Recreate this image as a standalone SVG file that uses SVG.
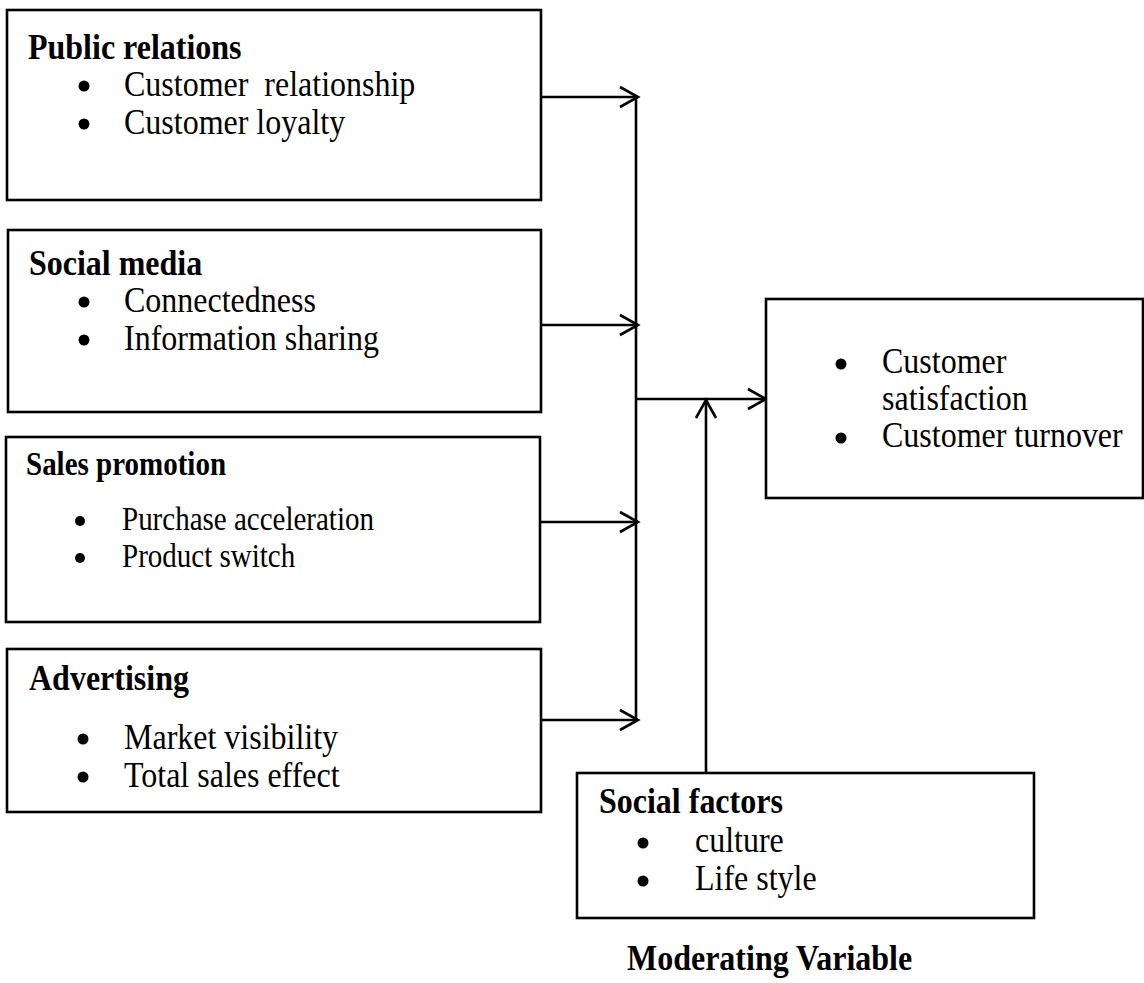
<svg xmlns="http://www.w3.org/2000/svg" width="1144" height="983" viewBox="0 0 1144 983">
<style>
  .box { fill: #fff; stroke: #000; stroke-width: 2.6; }
  .t { font-family: "Liberation Serif", "Times New Roman", serif; font-size: 32px; fill: #000; }
  .b { font-weight: bold; }
  .s { font-size: 29px; }
  .dot { fill: #000; }
  .conn { fill: none; stroke: #000; stroke-width: 2.6; }
</style>
<defs>
  <marker id="arr" viewBox="-22 -13 26 26" markerWidth="26" markerHeight="26" refX="0" refY="0" orient="auto" markerUnits="userSpaceOnUse">
    <path d="M-18,-10 L0,0 L-18,10" fill="none" stroke="#000" stroke-width="2.6"/>
  </marker>
</defs>
<rect width="1144" height="983" fill="#fff"/>

<g id="connectors">
  <line class="conn" x1="636" y1="97" x2="636" y2="720"/>
  <line class="conn" x1="541" y1="97" x2="638" y2="97" marker-end="url(#arr)"/>
  <line class="conn" x1="541" y1="325" x2="638" y2="325" marker-end="url(#arr)"/>
  <line class="conn" x1="540" y1="522" x2="638" y2="522" marker-end="url(#arr)"/>
  <line class="conn" x1="541" y1="720" x2="638" y2="720" marker-end="url(#arr)"/>
  <line class="conn" x1="636" y1="399" x2="766" y2="399" marker-end="url(#arr)"/>
  <line class="conn" x1="706" y1="773" x2="706" y2="400" marker-end="url(#arr)"/>
</g>

<g id="public-relations">
  <rect class="box" x="7" y="10" width="534" height="190"/>
  <text class="t b" transform="translate(28 59) scale(1 1.13)">Public relations</text>
  <circle class="dot" cx="84" cy="86" r="5.5"/>
  <text class="t" transform="translate(124 96) scale(1 1.13)" xml:space="preserve">Customer  relationship</text>
  <circle class="dot" cx="84" cy="124" r="5.5"/>
  <text class="t" transform="translate(124 134) scale(1 1.13)">Customer loyalty</text>
</g>

<g id="social-media">
  <rect class="box" x="8" y="230" width="533" height="182"/>
  <text class="t b" transform="translate(29 275) scale(1 1.13)">Social media</text>
  <circle class="dot" cx="84" cy="302" r="5.5"/>
  <text class="t" transform="translate(124 312) scale(1 1.13)">Connectedness</text>
  <circle class="dot" cx="84" cy="340" r="5.5"/>
  <text class="t" transform="translate(124 350) scale(1 1.13)">Information sharing</text>
</g>

<g id="sales-promotion">
  <rect class="box" x="6" y="437" width="534" height="185"/>
  <text class="t b s" transform="translate(26 475) scale(1 1.13)">Sales promotion</text>
  <circle class="dot" cx="80" cy="521" r="5"/>
  <text class="t s" transform="translate(122 530) scale(1 1.13)">Purchase acceleration</text>
  <circle class="dot" cx="80" cy="558" r="5"/>
  <text class="t s" transform="translate(122 567) scale(1 1.13)">Product switch</text>
</g>

<g id="advertising">
  <rect class="box" x="7" y="649" width="534" height="163"/>
  <text class="t b" transform="translate(29 690) scale(1 1.13)">Advertising</text>
  <circle class="dot" cx="83" cy="739" r="5.5"/>
  <text class="t" transform="translate(124 749) scale(1 1.13)">Market visibility</text>
  <circle class="dot" cx="83" cy="777" r="5.5"/>
  <text class="t" transform="translate(124 787) scale(1 1.13)">Total sales effect</text>
</g>

<g id="outcome">
  <rect class="box" x="766" y="299" width="377" height="199"/>
  <circle class="dot" cx="841" cy="364" r="5.5"/>
  <text class="t" transform="translate(882 373) scale(1 1.13)">Customer</text>
  <text class="t" transform="translate(882 410) scale(1 1.13)">satisfaction</text>
  <circle class="dot" cx="841" cy="438" r="5.5"/>
  <text class="t" transform="translate(882 447) scale(1 1.13)">Customer turnover</text>
</g>

<g id="social-factors">
  <rect class="box" x="577" y="773" width="457" height="145"/>
  <text class="t b" transform="translate(599 813) scale(1 1.13)">Social factors</text>
  <circle class="dot" cx="643" cy="843" r="5.5"/>
  <text class="t" transform="translate(695 852) scale(1 1.13)">culture</text>
  <circle class="dot" cx="643" cy="881" r="5.5"/>
  <text class="t" transform="translate(695 890) scale(1 1.13)">Life style</text>
</g>

<g id="moderating-label">
  <text class="t b" transform="translate(627 970) scale(1 1.13)">Moderating Variable</text>
</g>
</svg>
